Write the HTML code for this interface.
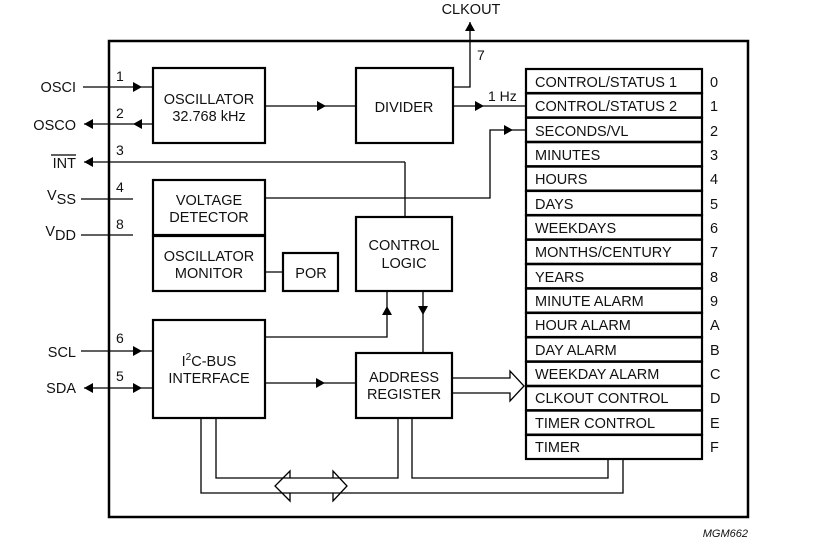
<!DOCTYPE html>
<html><head><style>html,body{margin:0;padding:0;background:#fff;}svg{display:block}</style></head>
<body>
<svg width="823" height="553" viewBox="0 0 823 553" xmlns="http://www.w3.org/2000/svg" font-family="Liberation Sans, sans-serif" font-size="14" fill="#111">
<g stroke="#000" fill="none" stroke-width="1.3">
<rect x="109" y="41" width="639" height="476" stroke-width="2.5"/>
<g stroke-width="2.2">
<rect x="153" y="68" width="112" height="75"/>
<rect x="356" y="68" width="97" height="75"/>
<rect x="153" y="180" width="112" height="55"/>
<rect x="153" y="236" width="112" height="55"/>
<rect x="283" y="253" width="55" height="38"/>
<rect x="356" y="217" width="96" height="74"/>
<rect x="153" y="320" width="112" height="98"/>
<rect x="356" y="353" width="96" height="65"/>
</g>
<line x1="83" y1="87" x2="153" y2="87"/>
<line x1="84" y1="124" x2="153" y2="124"/>
<line x1="84" y1="162" x2="405" y2="162"/>
<line x1="405" y1="162" x2="405" y2="217"/>
<line x1="81" y1="199" x2="133" y2="199"/>
<line x1="81" y1="235" x2="133" y2="235"/>
<line x1="81" y1="351" x2="153" y2="351"/>
<line x1="84" y1="388" x2="153" y2="388"/>
<line x1="265" y1="106" x2="356" y2="106"/>
<line x1="453" y1="106" x2="526" y2="106"/>
<polyline points="453,87 470,87 470,22"/>
<polyline points="265,198 490,198 490,130 526,130"/>
<line x1="265" y1="272" x2="283" y2="272"/>
<polyline points="265,337 387,337 387,291"/>
<line x1="423" y1="291" x2="423" y2="353"/>
<line x1="265" y1="383" x2="356" y2="383"/>
<polyline points="452,378 510,378 510,371 524,386 510,401 510,393 452,393"/>
<polyline points="216,418 216,478 398,478 398,418"/>
<polyline points="201,418 201,493 623,493 623,459"/>
<polyline points="412,418 412,478 608,478 608,459"/>
<polyline points="290,478 290,471 275,486 290,501 290,493"/>
<polyline points="333,478 333,471 347,486 333,501 333,493"/>
</g>
<g fill="#000">
<path d="M133,82 L142,87 L133,92z"/>
<path d="M142,119 L133,124 L142,129z"/>
<path d="M93,119 L84,124 L93,129z"/>
<path d="M93,157 L84,162 L93,167z"/>
<path d="M133,346 L142,351 L133,356z"/>
<path d="M133,383 L142,388 L133,393z"/>
<path d="M93,383 L84,388 L93,393z"/>
<path d="M317,101 L326,106 L317,111z"/>
<path d="M475,101 L484,106 L475,111z"/>
<path d="M465,31 L470,22 L475,31z"/>
<path d="M504,125 L513,130 L504,135z"/>
<path d="M316,378 L325,383 L316,388z"/>
<path d="M382,315 L387,306 L392,315z"/>
<path d="M418,306 L423,315 L428,306z"/>
</g>
<g stroke="#000" stroke-width="2.2" fill="none">
<rect x="526" y="69" width="176" height="24"/><rect x="526" y="93.4" width="176" height="24"/><rect x="526" y="117.8" width="176" height="24"/><rect x="526" y="142.2" width="176" height="24"/>
<rect x="526" y="166.6" width="176" height="24"/><rect x="526" y="191" width="176" height="24"/><rect x="526" y="215.4" width="176" height="24"/><rect x="526" y="239.8" width="176" height="24"/>
<rect x="526" y="264.2" width="176" height="24"/><rect x="526" y="288.6" width="176" height="24"/><rect x="526" y="313" width="176" height="24"/><rect x="526" y="337.4" width="176" height="24"/>
<rect x="526" y="361.8" width="176" height="24"/><rect x="526" y="386.2" width="176" height="24"/><rect x="526" y="410.6" width="176" height="24"/><rect x="526" y="435" width="176" height="24"/>
</g>
<g font-size="14.5">
<text x="535" y="87">CONTROL/STATUS 1</text><text x="710" y="87">0</text>
<text x="535" y="111">CONTROL/STATUS 2</text><text x="710" y="111">1</text>
<text x="535" y="136">SECONDS/VL</text><text x="710" y="136">2</text>
<text x="535" y="160">MINUTES</text><text x="710" y="160">3</text>
<text x="535" y="184">HOURS</text><text x="710" y="184">4</text>
<text x="535" y="209">DAYS</text><text x="710" y="209">5</text>
<text x="535" y="233">WEEKDAYS</text><text x="710" y="233">6</text>
<text x="535" y="257">MONTHS/CENTURY</text><text x="710" y="257">7</text>
<text x="535" y="282">YEARS</text><text x="710" y="282">8</text>
<text x="535" y="306">MINUTE ALARM</text><text x="710" y="306">9</text>
<text x="535" y="330">HOUR ALARM</text><text x="710" y="330">A</text>
<text x="535" y="355">DAY ALARM</text><text x="710" y="355">B</text>
<text x="535" y="379">WEEKDAY ALARM</text><text x="710" y="379">C</text>
<text x="535" y="403">CLKOUT CONTROL</text><text x="710" y="403">D</text>
<text x="535" y="428">TIMER CONTROL</text><text x="710" y="428">E</text>
<text x="535" y="452">TIMER</text><text x="710" y="452">F</text>
</g>
<g font-size="14.5" text-anchor="middle">
<text x="209" y="104">OSCILLATOR</text><text x="209" y="121">32.768 kHz</text>
<text x="404" y="112">DIVIDER</text>
<text x="209" y="205">VOLTAGE</text><text x="209" y="222">DETECTOR</text>
<text x="209" y="261">OSCILLATOR</text><text x="209" y="278">MONITOR</text>
<text x="311" y="278">POR</text>
<text x="404" y="250">CONTROL</text><text x="404" y="268">LOGIC</text>
<text x="209" y="366">I<tspan dy="-6" font-size="10">2</tspan><tspan dy="6">C-BUS</tspan></text><text x="209" y="383">INTERFACE</text>
<text x="404" y="382">ADDRESS</text><text x="404" y="399">REGISTER</text>
<text x="471" y="14">CLKOUT</text>
</g>
<g font-size="14.5" text-anchor="end">
<text x="76" y="92">OSCI</text>
<text x="76" y="130">OSCO</text>
<text x="76" y="168">INT</text>
<text x="76" y="204"><tspan dy="-4">V</tspan><tspan dy="4">SS</tspan></text>
<text x="76" y="240"><tspan dy="-4">V</tspan><tspan dy="4">DD</tspan></text>
<text x="76" y="357">SCL</text>
<text x="76" y="393">SDA</text>
</g>
<line x1="51" y1="155" x2="76" y2="155" stroke="#000" stroke-width="1.2"/>
<g font-size="14">
<text x="116" y="81">1</text><text x="116" y="118">2</text><text x="116" y="155">3</text>
<text x="116" y="192">4</text><text x="116" y="229">8</text><text x="116" y="343">6</text><text x="116" y="381">5</text>
<text x="477" y="60">7</text><text x="488" y="101">1 Hz</text>
</g>
<text x="748" y="537" font-size="11" font-style="italic" text-anchor="end">MGM662</text>
</svg>
</body></html>
